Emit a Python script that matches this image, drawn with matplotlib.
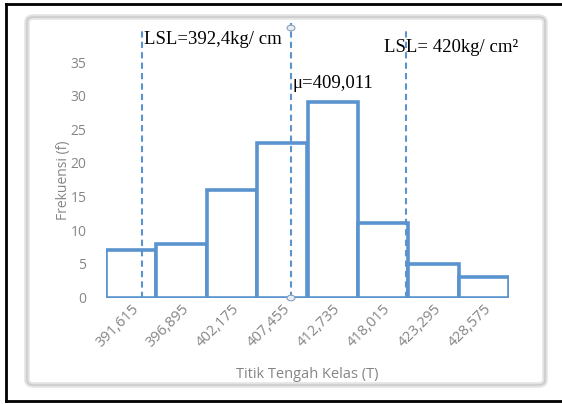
import matplotlib.pyplot as plt
from matplotlib.patches import FancyBboxPatch, Circle
from matplotlib.lines import Line2D

# class midpoints and frequencies
midpoints = [391.615, 396.895, 402.175, 407.455, 412.735, 418.015, 423.295, 428.575]
tick_labels = ["391,615", "396,895", "402,175", "407,455", "412,735", "418,015", "423,295", "428,575"]
freq = [7, 8, 16, 23, 29, 11, 5, 3]
class_width = 5.28

# limit / mean lines (position on the T axis as drawn) and their labels
line_x = [392.75, 408.36, 420.40]
line_labels = ["LSL=392,4kg/ cm", "\u03bc=409,011", "LSL= 420kg/ cm\u00b2"]

W, H = 562, 404
fig = plt.figure(figsize=(W / 100, H / 100), dpi=100)
fig.patch.set_facecolor("white")

def fx(px):
    return px / W

def fy(py):
    return 1 - py / H

# black frame of the screenshot
for xs, ys in [([6, 6], [4, 401]), ([6, 562], [4, 4]), ([6, 562], [401, 401])]:
    fig.add_artist(Line2D([fx(x) for x in xs], [fy(y) for y in ys], color="black", lw=2))

# grey chart-area border (double line look)
for lw, col in [(4.0, "#e3e3e3"), (1.0, "#c8c8c8")]:
    fig.add_artist(FancyBboxPatch((fx(27), fy(385)), fx(518), (385 - 17) / H,
                                  boxstyle="round,pad=0,rounding_size=0.012",
                                  transform=fig.transFigure, fill=False,
                                  edgecolor=col, lw=lw))

ax = fig.add_axes([fx(106), fy(297.5), fx(403), (297.5 - 62) / H])
blue = "#5b93cf"
grey = "#858585"
ax.bar(midpoints, freq, width=class_width, facecolor="white", edgecolor=blue, linewidth=2.6)
ax.set_xlim(midpoints[0] - class_width / 2, midpoints[-1] + class_width / 2)
ax.set_ylim(0, 35)
ax.set_yticks(range(0, 36, 5))
ax.set_xticks(midpoints)
ax.set_xticklabels(tick_labels, rotation=45, ha="right", rotation_mode="anchor",
                   color=grey, fontsize=10.5, family="Open Sans")
for lab in ax.get_yticklabels():
    lab.set_color(grey)
    lab.set_fontsize(10)
    lab.set_family("Open Sans")
ax.tick_params(axis="y", length=0, pad=14)
ax.tick_params(axis="x", length=0, pad=3)
for s in ax.spines.values():
    s.set_visible(False)

ax.set_ylabel("Frekuensi (f)", color=grey, fontsize=10, family="Open Sans", labelpad=0)
ax.set_xlabel("Titik Tengah Kelas (T)", color=grey, fontsize=10.5, family="Open Sans", labelpad=12)

# dashed lines
tops = [40.0, 40.8, 40.0]
for x, top in zip(line_x, tops):
    ax.plot([x, x], [0, top], color=blue, lw=1.5, ls=(0, (3, 2)), clip_on=False)

# selection handles on the mean line
for py in [28, 298]:
    fig.add_artist(Circle((fx(291), fy(py)), 0.007, transform=fig.transFigure,
                          facecolor="#e8eef5", edgecolor="#8aa0b8", lw=0.8))

serif = "Liberation Serif"
ax.text(line_x[0] + 0.2, 38.3, line_labels[0], family=serif, fontsize=13.5,
        va="center", ha="left")
ax.text(line_x[1] + 0.2, 31.8, line_labels[1], family=serif, fontsize=13.5,
        va="center", ha="left")
ax.text(line_x[2] - 2.3, 37.2, line_labels[2], family=serif, fontsize=13.5,
        va="center", ha="left")

fig.savefig("out.png", dpi=100)
